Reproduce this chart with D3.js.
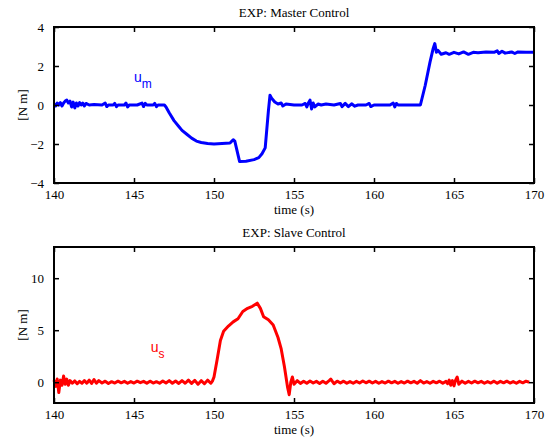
<!DOCTYPE html>
<html>
<head>
<meta charset="utf-8">
<script src="https://cdn.jsdelivr.net/npm/d3@7"></script>
<style>
  body { margin: 0; background: #fff; }
  svg text { font-family: "Liberation Serif", "Times New Roman", serif; font-size: 13px; fill: #000; }
</style>
</head>
<body>
<svg id="chart" width="548" height="441"></svg>
<script>
// time axis ticks shared by both panels
var timeTicks = [140, 145, 150, 155, 160, 165, 170];

// master control torque u_m
var masterTicks = [-4, -2, 0, 2, 4];
var masterTime = [140.0,140.1,140.2,140.3,140.4,140.5,140.6,140.7,140.8,140.9,141.0,141.1,141.2,141.3,141.4,141.5,141.6,141.7,141.8,141.9,142.0,142.2,142.5,143.0,143.2,143.3,143.4,143.7,143.8,143.9,144.0,144.4,144.5,144.6,144.7,145.2,145.5,145.6,145.7,145.8,146.2,146.3,146.4,146.5,146.9,147.0,147.2,147.5,147.8,148.0,148.3,148.6,148.9,149.2,149.6,150.0,150.5,151.0,151.2,151.3,151.6,152.0,152.5,152.8,153.0,153.2,153.4,153.5,153.6,153.8,154.0,154.2,154.3,154.5,155.0,155.5,155.7,155.8,155.9,156.0,156.1,156.2,156.3,156.5,156.7,157.0,157.5,157.9,158.0,158.2,158.4,158.6,158.8,159.0,159.5,159.7,159.8,160.0,161.0,161.2,161.3,161.4,161.5,162.9,163.2,163.5,163.7,163.8,163.9,164.0,164.2,164.5,164.7,165.0,165.3,165.6,165.9,166.2,166.5,167.0,167.5,167.7,167.8,168.0,168.2,168.6,168.8,169.0,169.5,170.0];
var masterTorque = [0.05,-0.05,0.1,0.0,0.12,-0.05,0.1,0.2,0.25,0.1,0.2,-0.1,0.15,-0.15,0.1,-0.05,0.12,0.0,0.1,-0.05,0.08,0.0,0.02,0.0,0.1,-0.08,0.0,0.0,0.08,-0.08,0.0,0.0,0.1,-0.1,0.0,0.0,0.1,-0.08,0.08,0.0,0.0,0.08,-0.08,0.0,0.0,-0.1,-0.4,-0.8,-1.1,-1.3,-1.5,-1.7,-1.85,-1.92,-1.97,-2.0,-1.97,-1.95,-1.78,-1.85,-2.9,-2.88,-2.8,-2.7,-2.5,-2.2,-0.3,0.5,0.35,0.15,0.05,0.1,-0.05,0.05,0.0,0.0,0.08,-0.1,0.1,0.25,-0.2,0.1,-0.1,0.05,0.0,0.05,0.0,0.08,-0.08,0.08,-0.08,0.06,-0.06,0.0,0.0,0.08,-0.08,0.0,0.0,0.1,-0.1,0.08,0.0,0.0,1.0,2.2,2.9,3.15,2.7,2.8,2.6,2.68,2.6,2.7,2.62,2.72,2.6,2.7,2.68,2.72,2.7,2.78,2.64,2.76,2.66,2.72,2.64,2.72,2.7,2.7];

// slave control torque u_s
var slaveTicks = [0, 5, 10];
var slaveTime = [140.0,140.1,140.2,140.3,140.4,140.5,140.6,140.7,140.8,140.9,141.0,141.15,141.3,141.45,141.6,141.75,141.9,142.05,142.2,142.35,142.5,142.65,142.8,143.0,143.2,143.4,143.6,143.8,144.0,144.2,144.4,144.6,144.8,145.0,145.2,145.4,145.6,145.8,146.0,146.2,146.4,146.6,146.8,147.0,147.2,147.4,147.6,147.8,148.0,148.2,148.4,148.6,148.8,149.0,149.2,149.4,149.6,149.8,149.9,150.0,150.2,150.4,150.6,150.9,151.2,151.5,151.8,152.1,152.4,152.7,152.9,153.1,153.4,153.7,154.0,154.2,154.4,154.6,154.7,154.8,154.9,155.0,155.2,155.4,155.6,155.8,156.0,156.2,156.4,156.6,156.8,157.0,157.2,157.3,157.5,157.7,157.9,158.1,158.3,158.5,158.7,158.9,159.1,159.3,159.5,159.7,159.9,160.1,160.3,160.5,160.7,160.9,161.1,161.3,161.5,161.7,161.9,162.1,162.3,162.5,162.7,162.9,163.1,163.3,163.5,163.7,163.9,164.1,164.3,164.5,164.6,164.7,164.8,164.9,165.0,165.1,165.2,165.3,165.5,165.7,165.9,166.1,166.3,166.5,166.7,166.9,167.1,167.3,167.5,167.7,167.9,168.1,168.3,168.5,168.7,168.9,169.1,169.3,169.5,169.7,169.9,170.0];
var slaveTorque = [0.2,-0.4,0.3,-1.0,0.2,-0.3,0.6,-0.2,0.3,-0.3,0.15,-0.1,0.12,-0.15,0.08,-0.1,0.15,-0.1,0.2,-0.12,0.25,-0.1,0.15,-0.08,0.1,-0.12,0.05,-0.08,0.1,-0.06,0.08,-0.1,0.06,-0.08,0.1,-0.05,0.08,-0.1,0.1,-0.08,0.05,-0.1,0.12,-0.08,0.15,-0.1,0.12,-0.12,0.15,-0.1,0.2,-0.12,0.18,-0.2,0.15,-0.15,0.2,-0.1,0.1,0.5,2.2,4.0,4.9,5.4,5.8,6.1,6.8,7.1,7.3,7.6,7.1,6.3,6.0,5.5,4.3,3.2,1.5,-0.5,-1.2,0.0,0.5,-0.2,0.15,-0.12,0.1,-0.1,0.12,-0.08,0.08,-0.12,0.1,-0.1,0.15,0.3,-0.15,0.1,-0.08,0.1,-0.1,0.06,-0.1,0.08,-0.08,0.12,-0.06,0.1,-0.08,0.08,-0.1,0.06,-0.08,0.1,-0.06,0.08,-0.1,0.06,-0.08,0.1,-0.06,0.08,-0.1,0.15,-0.08,0.06,-0.1,0.08,-0.06,0.1,-0.1,0.08,-0.15,0.2,-0.3,0.15,-0.35,0.2,0.5,-0.2,0.1,-0.1,0.08,-0.08,0.1,-0.06,0.08,-0.1,0.06,-0.08,0.1,-0.1,0.08,-0.06,0.1,-0.08,0.06,-0.1,0.08,-0.06,0.1,0.0];

var svg = d3.select('#chart');
var left = 54, right = 534;

function panel(opts) {
    var x = d3.scaleLinear().domain([140, 170]).range([left, right]);
    var y = d3.scaleLinear().domain(opts.yDomain).range([opts.bottom, opts.top]);
    var g = svg.append('g');

    var data = opts.time.map(function (t, i) { return [t, opts.values[i]]; });
    var line = d3.line()
        .x(function (d) { return x(d[0]); })
        .y(function (d) { return y(d[1]); });

    g.append('path')
        .datum(data)
        .attr('d', line)
        .attr('fill', 'none')
        .attr('stroke', opts.color)
        .attr('stroke-width', 3)
        .attr('stroke-linejoin', 'round');

    // axes with inward ticks on all four sides
    var fmt = function (d) { return d3.format('')(d); };
    var bottomAxis = d3.axisBottom(x).tickValues(timeTicks).tickSizeInner(-5).tickSizeOuter(0).tickPadding(7).tickFormat(fmt);
    var topAxis = d3.axisTop(x).tickValues(timeTicks).tickSizeInner(-5).tickSizeOuter(0).tickFormat('');
    var leftAxis = d3.axisLeft(y).tickValues(opts.yTicks).tickSizeInner(-5).tickSizeOuter(0).tickPadding(10).tickFormat(fmt);
    var rightAxis = d3.axisRight(y).tickValues(opts.yTicks).tickSizeInner(-5).tickSizeOuter(0).tickFormat('');

    var axes = [
        g.append('g').attr('transform', 'translate(0,' + opts.bottom + ')').call(bottomAxis),
        g.append('g').attr('transform', 'translate(0,' + opts.top + ')').call(topAxis),
        g.append('g').attr('transform', 'translate(' + left + ',0)').call(leftAxis),
        g.append('g').attr('transform', 'translate(' + right + ',0)').call(rightAxis)
    ];
    axes.forEach(function (a) {
        a.select('.domain').remove();
        a.selectAll('line').attr('stroke', '#000').attr('stroke-width', 1.5);
        a.selectAll('text')
            .style('font-family', '"Liberation Serif", "Times New Roman", serif')
            .style('font-size', '13px').style('fill', '#000');
    });

    g.append('rect')
        .attr('x', left).attr('y', opts.top)
        .attr('width', right - left).attr('height', opts.bottom - opts.top)
        .attr('fill', 'none').attr('stroke', '#000').attr('stroke-width', 2);

    g.append('text')
        .attr('x', (left + right) / 2).attr('y', opts.top - 10)
        .attr('text-anchor', 'middle')
        .text(opts.title);

    g.append('text')
        .attr('x', (left + right) / 2).attr('y', opts.bottom + 31)
        .attr('text-anchor', 'middle')
        .text('time (s)');

    g.append('text')
        .attr('transform', 'translate(27,' + ((opts.top + opts.bottom) / 2) + ') rotate(-90)')
        .attr('text-anchor', 'middle')
        .text('[N m]');

    var lab = g.append('text')
        .attr('x', x(opts.label[0])).attr('y', y(opts.label[1]))
        .style('font-family', 'Arial, "Liberation Sans", sans-serif')
        .style('font-size', '14px')
        .style('fill', opts.color);
    lab.append('tspan').text('u');
    lab.append('tspan').attr('dy', 6).style('font-size', '12px').text(opts.sub);
}

panel({
    title: 'EXP: Master Control', top: 27, bottom: 183,
    yDomain: [-4, 4], yTicks: masterTicks,
    time: masterTime, values: masterTorque, color: '#0000ff',
    label: [145.0, 1.2], sub: 'm'
});

panel({
    title: 'EXP: Slave Control', top: 247, bottom: 403,
    yDomain: [-2, 13], yTicks: slaveTicks,
    time: slaveTime, values: slaveTorque, color: '#ff0000',
    label: [146.05, 2.9], sub: 's'
});
</script>
</body>
</html>
